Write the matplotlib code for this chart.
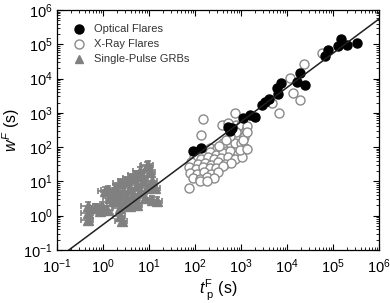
import numpy as np
import matplotlib
matplotlib.use("Agg")
import matplotlib.pyplot as plt
from matplotlib.ticker import LogLocator, FixedLocator, NullFormatter

plt.rcParams['font.family'] = ['Liberation Sans', 'DejaVu Sans']
plt.rcParams['mathtext.fontset'] = 'custom'
plt.rcParams['mathtext.rm'] = 'Liberation Sans'
plt.rcParams['mathtext.it'] = 'Liberation Sans:italic'
plt.rcParams['mathtext.bf'] = 'Liberation Sans:bold'

# ---------------- data ----------------
optical_t = [91, 135, 521, 577, 637, 1104, 1570, 2014, 2864, 3327, 4064, 6067, 6368,
             7413, 16480, 19190, 24600, 67000, 77800, 128500, 149300, 201400, 332700]
optical_w = [77, 93, 386, 294, 361, 705, 863, 755, 1687, 2065, 2523, 5284, 3532,
             7396, 7907, 14450, 6457, 45290, 67760, 88720, 141900, 94840, 108400]

xray_t = [449, 778, 1000, 1285, 861, 1162, 406, 577, 741, 1000, 212, 301, 1222,
          105, 149, 212, 286, 406, 577, 861,
          97, 132, 196, 255, 372, 515, 750, 1040,
          82, 116, 165, 223, 316, 449, 606,
          74, 105, 149, 212, 286, 406,
          78, 110, 157, 223, 316,
          90, 128, 182, 259,
          128, 182,
          951, 1105, 778, 577, 340, 480,
          74, 135, 149, 386, 521, 741, 1349, 1349, 1349, 4721, 6699, 11610, 13490,
          19190, 23440, 57680]
xray_w = [441, 441, 441, 315, 197, 197, 132, 132, 132, 132, 94, 94, 94,
          70, 62, 72, 60, 68, 75, 64,
          50, 45, 52, 44, 49, 53, 46, 50,
          36, 32, 35, 31, 37, 33, 35,
          26, 23, 27, 24, 25, 28,
          18, 16.5, 19, 17, 18.5,
          13, 12, 13.5, 12.5,
          10.5, 10,
          82, 161, 275, 209, 110, 160,
          6.4, 225, 659, 441, 504, 986, 412, 275, 88, 1932, 986, 10350, 3784,
          2360, 26490, 55340]

grb_t = [0.472, 0.472, 0.472, 0.670, 0.778, 0.861, 0.951, 1.105, 1.222, 1.284, 1.419,
         1.649, 2.014, 2.342, 2.342, 2.342, 2.588, 2.721, 3.008, 3.325, 3.864, 3.864,
         3.864, 4.488, 4.965, 5.483, 5.483, 6.369, 6.369, 7.41, 8.19, 9.05, 9.05, 9.51,
         11.6, 11.6, 13.5, 14.9, 1.82, 3.008, 4.965, 7.05, 10.5, 1.57, 2.12]
grb_w = [1.92, 1.20, 0.75, 1.68, 1.68, 1.37, 1.92, 5.25, 1.47, 5.61, 3.28,
         2.68, 4.01, 8.98, 1.68, 0.98, 0.70, 5.25, 10.3, 3.28, 12.6, 6.42,
         1.92, 4.01, 15.4, 7.85, 2.05, 20.1, 5.25, 10.3, 3.28, 28.1, 6.42, 30.1,
         10.3, 2.87, 6.42, 2.68, 6.42, 2.35, 3.28, 14.4, 18.8, 4.30, 2.87]
grb_rel_err = 0.3  # relative error bars

fit_slope = 1.0
fit_log_norm = -0.26

x_ticks = [1e-1, 1e0, 1e1, 1e2, 1e3, 1e4, 1e5, 1e6]
x_labels = [r'$10^{-1}$', r'$10^{0}$', r'$10^{1}$', r'$10^{2}$', r'$10^{3}$',
            r'$10^{4}$', r'$10^{5}$', r'$10^{6}$']
y_ticks = x_ticks
y_labels = x_labels

# ---------------- plot ----------------
fig = plt.figure(figsize=(3.9, 3.03), dpi=100)
ax = fig.add_axes([0.146, 0.175, 0.826, 0.792])
ax.set_xscale('log')
ax.set_yscale('log')
ax.set_xlim(1e-1, 1e6)
ax.set_ylim(1e-1, 1e6)

grey = '#808080'
gt = np.array(grb_t)
gw = np.array(grb_w)
ax.errorbar(gt, gw, xerr=grb_rel_err * gt, yerr=grb_rel_err * gw, fmt='^',
            color=grey, ms=6.5, mec=grey, mfc=grey, elinewidth=1.2, capsize=2,
            capthick=1.2, zorder=2)
ax.plot([], [], '^', color=grey, ms=6, label='Single-Pulse GRBs')

ax.plot(xray_t, xray_w, 'o', ms=6.5, mfc='white', mec='#8a8a8a', mew=1.0,
        zorder=3, label='X-Ray Flares')
ax.plot(optical_t, optical_w, 'o', ms=6.5, color='black', zorder=4,
        label='Optical Flares')

lx = np.array([1e-2, 1e7])
ax.plot(lx, 10 ** fit_log_norm * lx ** fit_slope, '-', color='#202020', lw=1.1,
        zorder=5)

ax.xaxis.set_major_locator(FixedLocator(x_ticks))
ax.yaxis.set_major_locator(FixedLocator(y_ticks))
ax.set_xticklabels(x_labels)
ax.set_yticklabels(y_labels)
ax.xaxis.set_minor_locator(LogLocator(base=10, subs=np.arange(2, 10), numticks=20))
ax.yaxis.set_minor_locator(LogLocator(base=10, subs=np.arange(2, 10), numticks=20))
ax.xaxis.set_minor_formatter(NullFormatter())
ax.yaxis.set_minor_formatter(NullFormatter())
ax.tick_params(which='both', direction='in', top=True, right=True, labelsize=10.5)
ax.tick_params(which='major', length=4, width=0.8)
ax.tick_params(which='minor', length=2, width=0.6)
ax.tick_params(axis='x', pad=5)
ax.tick_params(axis='y', pad=3)
for s in ax.spines.values():
    s.set_linewidth(0.9)

ax.set_xlabel(r'$t^{\rm F}_{\ \rm p}$ (s)', fontsize=11.5, labelpad=2)
ax.set_ylabel(r'$w^{F}$ (s)', fontsize=11.5)
ax.yaxis.set_label_coords(-0.108, 0.5)

handles, labels = ax.get_legend_handles_labels()
order = [2, 1, 0]
ax.legend([handles[i] for i in order], [labels[i] for i in order], loc='upper left',
          frameon=False, fontsize=8, handletextpad=0.6, borderaxespad=0.3,
          bbox_to_anchor=(0.02, 0.972), labelspacing=0.45, handlelength=1.5,
          labelcolor='#333333')

fig.savefig('out.png', dpi=100)
